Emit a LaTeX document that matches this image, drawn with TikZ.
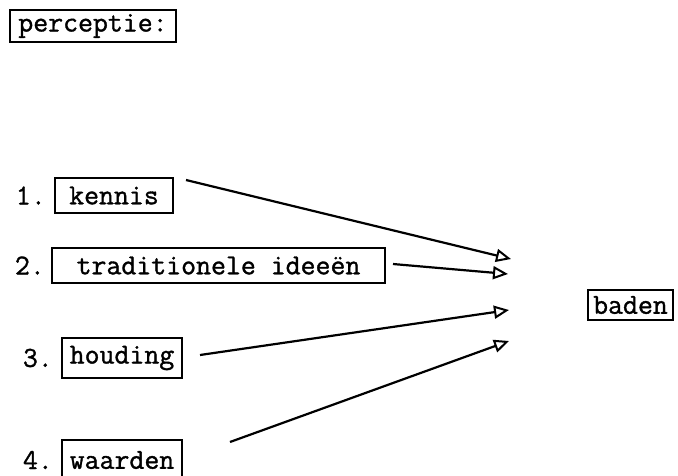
\documentclass[tikz,border=0pt]{standalone}
\usepackage{fontspec}
\setmonofont{Latin Modern Mono}[FakeBold=1.2]
\usetikzlibrary{arrows.meta}
\begin{document}
\begin{tikzpicture}[x=1pt,y=-1pt,
  box/.style={draw,line width=2pt,inner sep=0pt,font=\fontsize{29}{30}\selectfont\ttfamily},
  num/.style={anchor=east,inner sep=0pt,font=\fontsize{29}{30}\selectfont\ttfamily},
  conn/.style={line width=2.2pt,-{Triangle[open,length=15pt,width=13pt,line width=2pt]}}]
\useasboundingbox (0,0) rectangle (678,475);
\node[box,minimum width=166pt,minimum height=32pt] (p) at (93,26) {perceptie:};
\node[box,minimum width=118pt,minimum height=35pt] (k) at (114,195.5) {kennis};
\node[box,minimum width=333pt,minimum height=35pt] (t) at (218.5,265.5) {traditionele ideeën};
\node[box,minimum width=120pt,minimum height=40pt] (h) at (122,358) {houding};
\node[box,minimum width=120pt,minimum height=40pt] (w) at (122,460) {waarden};
\node[box,minimum width=85pt,minimum height=30pt] (b) at (630.5,305) {baden};
\node[num] (n1) at ([xshift=-8pt]k.west) {1.};
\node[num] (n2) at ([xshift=-6pt]t.west) {2.};
\node[num] (n3) at ([xshift=-8pt]h.west) {3.};
\node[num] (n4) at ([xshift=-8pt]w.west) {4.};
\coordinate (s1) at (186,180);
\coordinate (s2) at (393,264);
\coordinate (s3) at (200,355);
\coordinate (s4) at (230,442);
\coordinate (e1) at (511,259);
\coordinate (e2) at (508,274);
\coordinate (e3) at (509,310);
\coordinate (e4) at (509,341);
\draw[conn] (s1) -- (e1);
\draw[conn] (s2) -- (e2);
\draw[conn] (s3) -- (e3);
\draw[conn] (s4) -- (e4);
\end{tikzpicture}
\end{document}
